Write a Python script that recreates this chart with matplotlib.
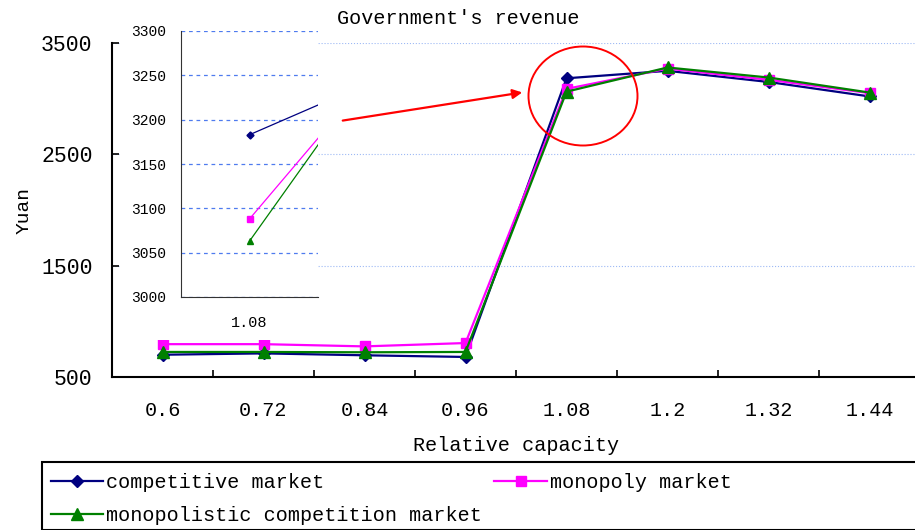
import matplotlib.pyplot as plt
import numpy as np
from matplotlib.patches import Rectangle, Ellipse
from matplotlib.ticker import FixedLocator

# data
capacity = ['0.6', '0.72', '0.84', '0.96', '1.08', '1.2', '1.32', '1.44']
competitive = [700, 712, 695, 680, 3183, 3250, 3150, 3020]
monopoly = [795, 795, 775, 805, 3088, 3270, 3170, 3050]
monopolistic = [725, 725, 722, 725, 3063, 3280, 3190, 3055]

series = [
    ('competitive market', competitive, '#000080', 'D', 6.5),
    ('monopoly market', monopoly, '#FF00FF', 's', 7),
    ('monopolistic competition market', monopolistic, '#008000', '^', 8.5),
]

plt.rcParams['font.family'] = ['Liberation Mono', 'DejaVu Sans Mono']

W, H = 915, 530
fig = plt.figure(figsize=(W / 100, H / 100), dpi=100)

def fx(px):
    return px / W

def fy(py):
    return 1 - py / H

x = np.arange(len(capacity))

# main axes
ax = fig.add_axes([fx(112), fy(377), 808 / W, (377 - 43) / H], zorder=0)
for name, vals, col, mk, ms in series:
    ax.plot(x, vals, color=col, lw=1.6, marker=mk, ms=ms, label=name)
ax.set_xlim(-0.5, 7.5)
ax.set_ylim(500, 3500)
ax.set_yticks([500, 1500, 2500, 3500])
ax.set_xticks(x)
ax.set_xticklabels(capacity)
ax.xaxis.set_minor_locator(FixedLocator(np.arange(-0.5, 8, 1)))
ax.tick_params(axis='x', which='major', length=0, pad=17, labelsize=14.5)
ax.tick_params(axis='x', which='minor', direction='in', length=5, width=1.2)
ax.tick_params(axis='y', direction='in', length=5, width=1.2, pad=14, labelsize=15.5)
for s in ['top', 'right']:
    ax.spines[s].set_visible(False)
for s in ['left', 'bottom']:
    ax.spines[s].set_linewidth(1.5)
ax.yaxis.grid(True, color='#9DB9F5', lw=0.8, ls=':')
ax.set_axisbelow(True)
ax.set_xlabel('Relative capacity', fontsize=14.5, labelpad=12)
ax.set_ylabel('Yuan', fontsize=14, labelpad=6)

fig.text(fx(458), fy(18), "Government's revenue", fontsize=14.5, ha='center', va='center')

# white box behind the zoomed inset
fig.add_artist(Rectangle((fx(120), fy(340)), fx(318 - 120), (340 - 20) / H,
                         transform=fig.transFigure, facecolor='white',
                         edgecolor='none', zorder=1))

# inset around 1.08 (only from 1.08 onwards)
ins = fig.add_axes([fx(181), fy(297), fx(318 - 181), (297 - 31) / H], zorder=2)
for name, vals, col, mk, ms in series:
    ins.plot(x[4:], vals[4:], color=col, lw=0.9, marker=mk, ms=ms * 0.55)
ins.set_xlim(3.5, 4.5)
ins.set_ylim(3000, 3300)
ins.set_yticks(np.arange(3000, 3301, 50))
ins.set_xticks([4])
ins.set_xticklabels(['1.08'])
ins.tick_params(axis='y', length=0, pad=11, labelsize=10.5)
ins.tick_params(axis='x', length=0, pad=14, labelsize=11)
ins.spines['top'].set_visible(False)
ins.spines['right'].set_visible(False)
ins.spines['left'].set_color('#333333')
ins.spines['bottom'].set_color('#333333')
ins.yaxis.grid(True, color='#4F7BEF', lw=0.9, ls=(0, (3, 3)))
ins.set_axisbelow(True)

# red circle and arrow
fig.add_artist(Ellipse((fx(583), fy(96)), fx(109), 99 / H, transform=fig.transFigure,
                       facecolor='none', edgecolor='red', lw=1.4, zorder=3))
ax.annotate('', xy=(fx(525), fy(92)), xytext=(fx(340), fy(121)),
            xycoords='figure fraction', textcoords='figure fraction',
            arrowprops=dict(arrowstyle='-|>', color='red', lw=1.6, mutation_scale=14),
            annotation_clip=False)

# legend, filled row by row, with an outside frame
handles, labels = ax.get_legend_handles_labels()
order = [0, 2, 1]
fig.legend([handles[i] for i in order], [labels[i] for i in order], ncol=2,
           loc='upper left', bbox_to_anchor=(fx(42), fy(464)), frameon=False,
           fontsize=14.5, handlelength=2.6, handletextpad=0.15, columnspacing=0.6,
           labelspacing=0.7, borderaxespad=0, borderpad=0.45)
fig.add_artist(Rectangle((fx(42), fy(530)), fx(900), (530 - 462) / H,
                         transform=fig.transFigure, facecolor='none',
                         edgecolor='black', lw=1.5, zorder=3))

fig.savefig('out.png', dpi=100)
